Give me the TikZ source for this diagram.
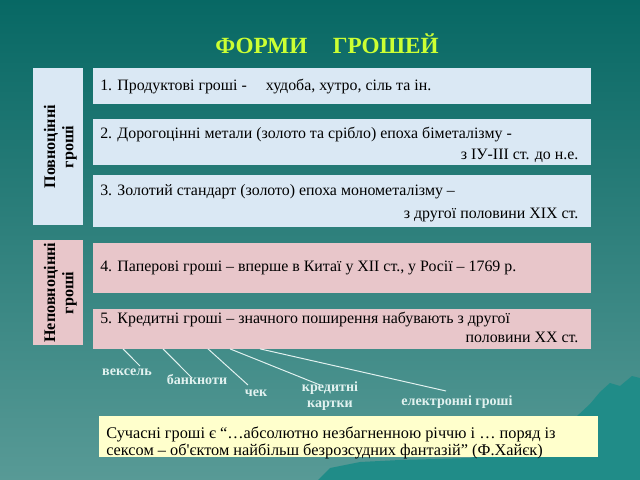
\documentclass[tikz,border=0pt]{standalone}
\usepackage{fontspec}
\setmainfont{Liberation Serif}
\newfontfamily\plainf{Liberation Serif}
\usetikzlibrary{positioning}
\definecolor{bgtop}{RGB}{7,104,100}
\definecolor{bgbot}{RGB}{88,154,150}
\definecolor{mount}{RGB}{32,140,136}
\definecolor{blbx}{RGB}{218,232,244}
\definecolor{pkbx}{RGB}{232,198,202}
\definecolor{qtbx}{RGB}{255,255,204}
\definecolor{ttl}{RGB}{204,255,51}
\definecolor{lbtxt}{RGB}{226,242,240}
\tikzset{
	blbox/.style={fill=blbx,inner sep=0pt,minimum width=12.45cm},
	pkbox/.style={fill=pkbx,inner sep=0pt,minimum width=12.45cm},
	sidebox/.style={inner sep=0pt,minimum width=1.25cm},
	txt/.style={inner sep=0pt,text height=1.6ex,text depth=0.4ex,font=\fontsize{11.3}{13}\selectfont},
	sidetxt/.style={rotate=90,align=center,font=\fontsize{11.5}{13}\selectfont\bfseries},
	lbl/.style={inner sep=0pt,text=lbtxt,align=center,font=\fontsize{10}{11.5}\selectfont\bfseries},
	lnk/.style={draw=lbtxt,line width=0.7pt}
}
\newcommand{\gap}{\hspace{1.2em}}
\begin{document}
\begin{tikzpicture}[x=0.025cm,y=-0.025cm]
	\useasboundingbox (0,0) rectangle (640,480);
	\shade[top color=bgtop,bottom color=bgbot] (0,0) rectangle (640,480);
	\fill[mount] (318,480) -- (330,468) -- (360,462) -- (400,460) -- (470,458) -- (540,440) -- (560,425) -- (576,417) -- (590,404) -- (600,392) -- (610,383) -- (620,386) -- (632,376) -- (640,378) -- (640,480) -- cycle;
	\node[text=ttl,font=\fontsize{16.5}{20}\selectfont\bfseries] (title) at (327,44) {ФОРМИ\hspace{1.1em}ГРОШЕЙ};
	\node[blbox,minimum height=0.9cm,anchor=north west] (b1) at (93,68) {};
	\node[blbox,minimum height=1.15cm,below right=0.35cm and 0cm of b1.south west] (b2) {};
	\node[blbox,minimum height=1.3cm,below right=0.25cm and 0cm of b2.south west] (b3) {};
	\node[pkbox,minimum height=1.25cm,below right=0.375cm and 0cm of b3.south west] (b4) {};
	\node[pkbox,minimum height=1.0cm,below right=0.375cm and 0cm of b4.south west] (b5) {};
	\node[sidebox,fill=blbx,anchor=north west,minimum height=3.925cm] (s1) at (33,68) {};
	\node[sidebox,fill=pkbx,anchor=north west,minimum height=2.625cm] (s2) at (33,240) {};
	\node[sidetxt] (s1t) at ([xshift=0.05cm]s1.center) {Повноцінні\\гроші};
	\node[sidetxt] (s2t) at ([xshift=0.05cm]s2.center) {Неповноцінні\\гроші};
	\node[txt,right=0.175cm of b1.west] (t1) {1. Продуктові гроші -\gap худоба, хутро, сіль та ін.};
	\node[txt,anchor=west] (t2a) at ([xshift=0.175cm,yshift=-0.4cm]b2.north west) {2. Дорогоцінні метали (золото та срібло) епоха біметалізму -};
	\node[txt,anchor=east] (t2b) at ([xshift=-0.325cm,yshift=0.25cm]b2.south east) {з ІУ-ІІІ ст. до н.е.};
	\node[txt,anchor=west] (t3a) at ([xshift=0.175cm,yshift=-0.42cm]b3.north west) {3. Золотий стандарт (золото) епоха монометалізму –};
	\node[txt,anchor=east] (t3b) at ([xshift=-0.325cm,yshift=0.32cm]b3.south east) {з другої половини ХІХ ст.};
	\node[txt,right=0.175cm of b4.west] (t4) {4. Паперові гроші – вперше в Китаї у ХІІ ст., у Росії – 1769 р.};
	\node[txt,anchor=west] (t5a) at ([xshift=0.175cm,yshift=-0.28cm]b5.north west) {5. Кредитні гроші – значного поширення набувають з другої};
	\node[txt,anchor=east] (t5b) at ([xshift=-0.325cm,yshift=0.25cm]b5.south east) {половини ХХ ст.};
	\node[lbl] (l1) at (127,372) {вексель};
	\node[lbl] (l2) at (197,380) {банкноти};
	\node[lbl] (l3) at (256,393) {чек};
	\node[lbl] (l4) at (330,396) {кредитні\\картки};
	\node[lbl] (l5) at (457,402) {електронні гроші};
	\coordinate (c1) at ([xshift=0.75cm]b5.south west);
	\coordinate (c2) at ([xshift=1.75cm]b5.south west);
	\coordinate (c3) at ([xshift=2.875cm]b5.south west);
	\coordinate (c4) at ([xshift=3.425cm]b5.south west);
	\coordinate (c5) at ([xshift=4.175cm]b5.south west);
	\coordinate (e1) at (140,366);
	\coordinate (e2) at (192,378);
	\coordinate (e3) at (248,385);
	\coordinate (e4) at (320,385);
	\coordinate (e5) at (446,391);
	\draw[lnk] (c1) -- (e1);
	\draw[lnk] (c2) -- (e2);
	\draw[lnk] (c3) -- (e3);
	\draw[lnk] (c4) -- (e4);
	\draw[lnk] (c5) -- (e5);
	\node[fill=qtbx,inner sep=0pt,minimum width=12.475cm,minimum height=1.025cm,anchor=north west] (q) at (99,416) {};
	\node[anchor=west,inner sep=0pt,align=left,font=\fontsize{11.6}{11.6}\selectfont] (qt) at ([xshift=0.175cm,yshift=-0.15cm]q.west) {Сучасні гроші є “…абсолютно незбагненною річчю і … поряд із\\сексом – об{\plainf '}єктом найбільш безрозсудних фантазій” (Ф.Хайєк)};
\end{tikzpicture}
\end{document}
